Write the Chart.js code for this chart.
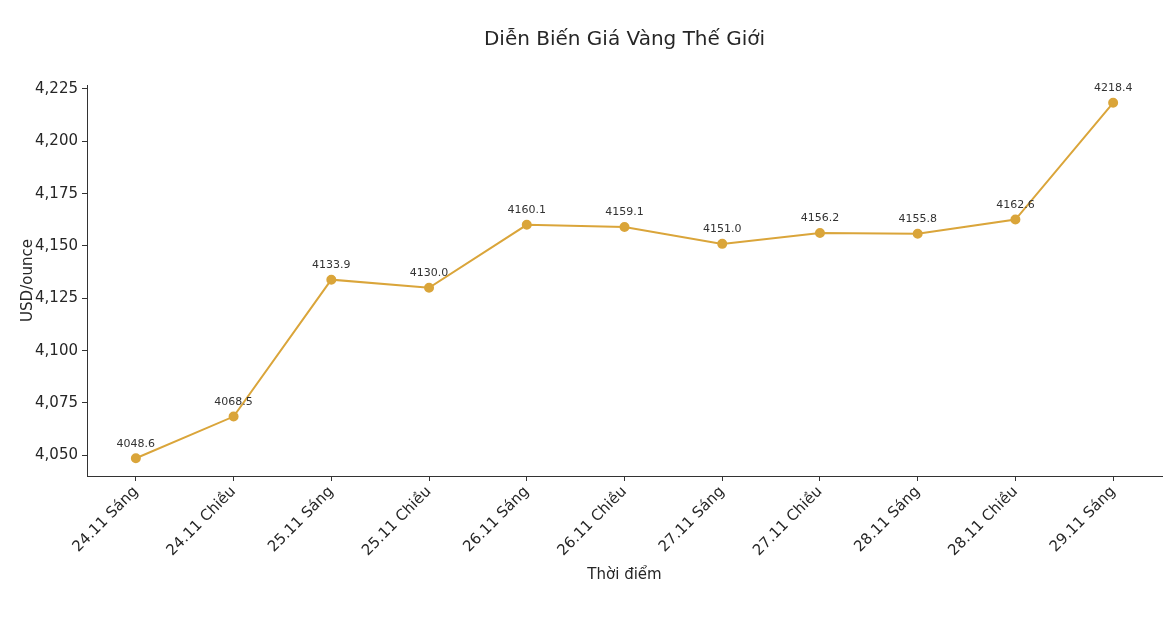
<!DOCTYPE html>
<html>
<head>
<meta charset="utf-8">
<script src="https://cdn.jsdelivr.net/npm/chart.js@4"></script>
<style>
  html, body { margin: 0; padding: 0; background: #fff; }
  #wrap { width: 1172px; height: 644px; }
</style>
</head>
<body>
<div id="wrap"><canvas id="gold-chart"></canvas></div>
<script>
const labels = ['24.11 Sáng', '24.11 Chiều', '25.11 Sáng', '25.11 Chiều', '26.11 Sáng', '26.11 Chiều',
    '27.11 Sáng', '27.11 Chiều', '28.11 Sáng', '28.11 Chiều', '29.11 Sáng'];
const prices = [4048.6, 4068.5, 4133.9, 4130.0, 4160.1, 4159.1, 4151.0, 4156.2, 4155.8, 4162.6, 4218.4];
const yTicks = [4050, 4075, 4100, 4125, 4150, 4175, 4200, 4225];

const FONT = 'DejaVu Sans';
const lineColor = '#DAA53A';

// title, axis titles and value labels drawn by hand, matplotlib style
const extras = {
    id: 'extras',
    afterDatasetsDraw(chart) {
        const ctx = chart.ctx;
        const area = chart.chartArea;
        const meta = chart.getDatasetMeta(0);
        ctx.save();
        ctx.fillStyle = '#333';
        ctx.font = '11px ' + FONT;
        ctx.textAlign = 'center';
        ctx.textBaseline = 'bottom';
        meta.data.forEach((pt, i) => {
            ctx.fillText(prices[i].toFixed(1), pt.x, pt.y - 9);
        });
        ctx.fillStyle = '#262626';
        ctx.font = '20px ' + FONT;
        ctx.textBaseline = 'middle';
        ctx.fillText('Diễn Biến Giá Vàng Thế Giới', (area.left + area.right) / 2, 40);
        ctx.font = '15px ' + FONT;
        ctx.fillText('Thời điểm', (area.left + area.right) / 2, 575);
        ctx.translate(28, (area.top + area.bottom) / 2);
        ctx.rotate(-Math.PI / 2);
        ctx.fillText('USD/ounce', 0, 0);
        ctx.restore();
    }
};

new Chart(document.getElementById('gold-chart'), {
    type: 'line',
    data: {
        labels: labels,
        datasets: [{
            data: prices,
            borderColor: lineColor,
            backgroundColor: lineColor,
            borderWidth: 2,
            pointRadius: 4,
            pointHoverRadius: 4,
            tension: 0
        }]
    },
    options: {
        responsive: true,
        maintainAspectRatio: false,
        animation: false,
        layout: { padding: { top: 85, right: 10, bottom: 38, left: 0 } },
        plugins: { legend: { display: false }, tooltip: { enabled: false }, title: { display: false } },
        scales: {
            x: {
                offset: true,
                afterFit: s => { s.height = 130; },
                grid: { drawOnChartArea: false, color: '#333', tickLength: 5 },
                border: { color: '#333' },
                ticks: { color: '#262626', font: { family: FONT, size: 15 }, maxRotation: 45, minRotation: 45, padding: 2 }
            },
            y: {
                min: 4040.1,
                max: 4226.9,
                afterFit: s => { s.width = 87; },
                afterBuildTicks: s => { s.ticks = yTicks.map(v => ({ value: v })); },
                grid: { drawOnChartArea: false, color: '#333', tickLength: 5 },
                border: { color: '#333' },
                ticks: { color: '#262626', font: { family: FONT, size: 15 }, padding: 4 }
            }
        }
    },
    plugins: [extras]
});
</script>
</body>
</html>
